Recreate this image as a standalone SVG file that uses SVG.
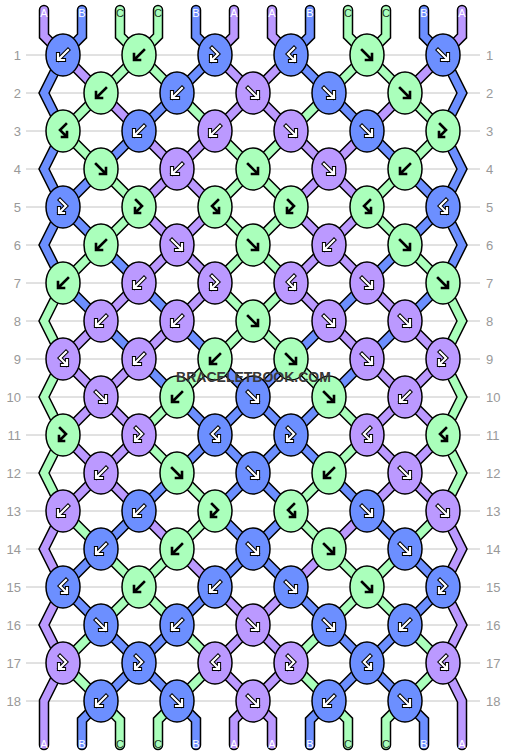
<svg xmlns="http://www.w3.org/2000/svg" xmlns:xlink="http://www.w3.org/1999/xlink" width="506" height="756" viewBox="0 0 506 756">
<style>
.ln{fill:none;stroke:#c4c4c4;stroke-width:1}
.num{font-family:"Liberation Sans",Arial,sans-serif;font-size:13px;fill:#999}
.nl{text-anchor:end}
.so{fill:none;stroke:#000;stroke-width:10.5;stroke-linecap:round;stroke-linejoin:miter}
.si{fill:none;stroke-width:7.5;stroke-linecap:round;stroke-linejoin:miter}
.sa{stroke:#bb99ff}.sb{stroke:#6c8fff}.sc{stroke:#aaffbb}
.a{fill:#bb99ff}.b{fill:#6c8fff}.c{fill:#aaffbb}
.ao{fill:none;stroke:#000;stroke-width:4.2;stroke-linecap:square}
.aw{fill:none;stroke:#fff;stroke-width:2.2;stroke-linecap:square}
.ak{fill:none;stroke:#000;stroke-width:2.6;stroke-linecap:square}
.lab{font-family:"Liberation Sans",Arial,sans-serif;font-size:11px;text-anchor:middle}
.lw{fill:#fff}.ld{fill:#1e3a24}
.wm{font-family:"Liberation Sans",Arial,sans-serif;font-weight:bold;font-size:14px;fill:#383838;text-anchor:middle}
</style>
<defs>
<ellipse id="E" rx="17" ry="21" stroke="#000" stroke-width="1.5"/>
<path id="fw" d="M-5,-5L4.5,4.5M-1,5H5V-1"/>
<path id="bk" d="M5,-5L-4.5,4.5M1,5H-5V-1"/>
<path id="fb" d="M-3,-7L3,-1L-3.5,5.5M1,6H-4V1"/>
<path id="bf" d="M3,-7L-3,-1L3.5,5.5M-1,6H4V1"/>
<g id="fwW"><use href="#fw" class="ao"/><use href="#fw" class="aw"/></g>
<g id="bkW"><use href="#bk" class="ao"/><use href="#bk" class="aw"/></g>
<g id="fbW"><use href="#fb" class="ao"/><use href="#fb" class="aw"/></g>
<g id="bfW"><use href="#bf" class="ao"/><use href="#bf" class="aw"/></g>
<use id="fwK" href="#fw" class="ak"/>
<use id="bkK" href="#bk" class="ak"/>
<use id="fbK" href="#fb" class="ak"/>
<use id="bfK" href="#bf" class="ak"/>
<path id="s0" d="M44,10L44,36L63,55L101,93L139,131L177,169L215,207L177,245L139,283L101,321L63,359L101,397L139,435L101,473L63,511L44,549L63,587L44,625L63,663L44,701L44,745"/>
<path id="s1" d="M82,10L82,36L63,55L44,93L63,131L44,169L63,207L44,245L63,283L101,321L139,359L177,397L215,435L177,473L139,511L101,549L63,587L101,625L139,663L101,701L82,720L82,745"/>
<path id="s2" d="M120,10L120,36L139,55L177,93L215,131L253,169L291,207L253,245L215,283L253,321L291,359L329,397L367,435L329,473L291,511L329,549L367,587L405,625L443,663L405,701L386,720L386,745"/>
<path id="s3" d="M158,10L158,36L139,55L101,93L63,131L101,169L139,207L101,245L63,283L44,321L63,359L44,397L63,435L44,473L63,511L101,549L139,587L177,625L215,663L177,701L158,720L158,745"/>
<path id="s4" d="M196,10L196,36L215,55L177,93L139,131L101,169L63,207L101,245L139,283L177,321L215,359L253,397L291,435L253,473L215,511L253,549L291,587L329,625L367,663L329,701L310,720L310,745"/>
<path id="s5" d="M234,10L234,36L215,55L253,93L291,131L329,169L367,207L329,245L291,283L329,321L367,359L405,397L443,435L405,473L367,511L329,549L291,587L253,625L215,663L253,701L272,720L272,745"/>
<path id="s6" d="M272,10L272,36L291,55L253,93L215,131L177,169L139,207L177,245L215,283L177,321L139,359L101,397L63,435L101,473L139,511L177,549L215,587L253,625L291,663L253,701L234,720L234,745"/>
<path id="s7" d="M310,10L310,36L291,55L329,93L367,131L405,169L443,207L405,245L367,283L329,321L291,359L253,397L215,435L253,473L291,511L253,549L215,587L177,625L139,663L177,701L196,720L196,745"/>
<path id="s8" d="M348,10L348,36L367,55L405,93L443,131L405,169L367,207L405,245L443,283L462,321L443,359L462,397L443,435L462,473L443,511L405,549L367,587L329,625L291,663L329,701L348,720L348,745"/>
<path id="s9" d="M386,10L386,36L367,55L329,93L291,131L253,169L215,207L253,245L291,283L253,321L215,359L177,397L139,435L177,473L215,511L177,549L139,587L101,625L63,663L101,701L120,720L120,745"/>
<path id="s10" d="M424,10L424,36L443,55L462,93L443,131L462,169L443,207L462,245L443,283L405,321L367,359L329,397L291,435L329,473L367,511L405,549L443,587L405,625L367,663L405,701L424,720L424,745"/>
<path id="s11" d="M462,10L462,36L443,55L405,93L367,131L329,169L291,207L329,245L367,283L405,321L443,359L405,397L367,435L405,473L443,511L462,549L443,587L462,625L443,663L462,701L462,745"/>
</defs>
<rect width="506" height="756" fill="#fff"/>
<g id="rows">
<path class="ln" d="M26,55H480M26,93H480M26,131H480M26,169H480M26,207H480M26,245H480M26,283H480M26,321H480M26,359H480M26,397H480M26,435H480M26,473H480M26,511H480M26,549H480M26,587H480M26,625H480M26,663H480M26,701H480"/>
<g class="num nl">
<text x="21" y="59.5">1</text><text x="21" y="97.5">2</text><text x="21" y="135.5">3</text><text x="21" y="173.5">4</text><text x="21" y="211.5">5</text><text x="21" y="249.5">6</text><text x="21" y="287.5">7</text><text x="21" y="325.5">8</text><text x="21" y="363.5">9</text><text x="21" y="401.5">10</text><text x="21" y="439.5">11</text><text x="21" y="477.5">12</text><text x="21" y="515.5">13</text><text x="21" y="553.5">14</text><text x="21" y="591.5">15</text><text x="21" y="629.5">16</text><text x="21" y="667.5">17</text><text x="21" y="705.5">18</text>
</g>
<g class="num">
<text x="486" y="59.5">1</text><text x="486" y="97.5">2</text><text x="486" y="135.5">3</text><text x="486" y="173.5">4</text><text x="486" y="211.5">5</text><text x="486" y="249.5">6</text><text x="486" y="287.5">7</text><text x="486" y="325.5">8</text><text x="486" y="363.5">9</text><text x="486" y="401.5">10</text><text x="486" y="439.5">11</text><text x="486" y="477.5">12</text><text x="486" y="515.5">13</text><text x="486" y="553.5">14</text><text x="486" y="591.5">15</text><text x="486" y="629.5">16</text><text x="486" y="667.5">17</text><text x="486" y="705.5">18</text>
</g>
</g>
<g id="connectors">
<use href="#s0" class="so"/><use href="#s1" class="so"/><use href="#s2" class="so"/><use href="#s3" class="so"/><use href="#s4" class="so"/><use href="#s5" class="so"/><use href="#s6" class="so"/><use href="#s7" class="so"/><use href="#s8" class="so"/><use href="#s9" class="so"/><use href="#s10" class="so"/><use href="#s11" class="so"/>
<use href="#s0" class="si sa"/><use href="#s1" class="si sb"/><use href="#s2" class="si sc"/><use href="#s3" class="si sc"/><use href="#s4" class="si sb"/><use href="#s5" class="si sa"/><use href="#s6" class="si sa"/><use href="#s7" class="si sb"/><use href="#s8" class="si sc"/><use href="#s9" class="si sc"/><use href="#s10" class="si sb"/><use href="#s11" class="si sa"/>
</g>
<g id="labels">
<text class="lab lw" x="44" y="16.5">A</text><text class="lab lw" x="82" y="16.5">B</text><text class="lab ld" x="120" y="16.5">C</text><text class="lab ld" x="158" y="16.5">C</text><text class="lab lw" x="196" y="16.5">B</text><text class="lab lw" x="234" y="16.5">A</text><text class="lab lw" x="272" y="16.5">A</text><text class="lab lw" x="310" y="16.5">B</text><text class="lab ld" x="348" y="16.5">C</text><text class="lab ld" x="386" y="16.5">C</text><text class="lab lw" x="424" y="16.5">B</text><text class="lab lw" x="462" y="16.5">A</text>
<text class="lab lw" x="44" y="748">A</text><text class="lab lw" x="82" y="748">B</text><text class="lab ld" x="120" y="748">C</text><text class="lab ld" x="158" y="748">C</text><text class="lab lw" x="196" y="748">B</text><text class="lab lw" x="234" y="748">A</text><text class="lab lw" x="272" y="748">A</text><text class="lab lw" x="310" y="748">B</text><text class="lab ld" x="348" y="748">C</text><text class="lab ld" x="386" y="748">C</text><text class="lab lw" x="424" y="748">B</text><text class="lab lw" x="462" y="748">A</text>
</g>
<g id="k1-1" class="b" transform="translate(63,55)"><use href="#E"/><use href="#bkW"/></g>
<g id="k1-2" class="c" transform="translate(139,55)"><use href="#E"/><use href="#bkK"/></g>
<g id="k1-3" class="b" transform="translate(215,55)"><use href="#E"/><use href="#fbW"/></g>
<g id="k1-4" class="b" transform="translate(291,55)"><use href="#E"/><use href="#bfW"/></g>
<g id="k1-5" class="c" transform="translate(367,55)"><use href="#E"/><use href="#fwK"/></g>
<g id="k1-6" class="b" transform="translate(443,55)"><use href="#E"/><use href="#fwW"/></g>
<g id="k2-1" class="c" transform="translate(101,93)"><use href="#E"/><use href="#bkK"/></g>
<g id="k2-2" class="b" transform="translate(177,93)"><use href="#E"/><use href="#bkW"/></g>
<g id="k2-3" class="a" transform="translate(253,93)"><use href="#E"/><use href="#fwW"/></g>
<g id="k2-4" class="b" transform="translate(329,93)"><use href="#E"/><use href="#fwW"/></g>
<g id="k2-5" class="c" transform="translate(405,93)"><use href="#E"/><use href="#fwK"/></g>
<g id="k3-1" class="c" transform="translate(63,131)"><use href="#E"/><use href="#bfK"/></g>
<g id="k3-2" class="b" transform="translate(139,131)"><use href="#E"/><use href="#bkW"/></g>
<g id="k3-3" class="a" transform="translate(215,131)"><use href="#E"/><use href="#bkW"/></g>
<g id="k3-4" class="a" transform="translate(291,131)"><use href="#E"/><use href="#fwW"/></g>
<g id="k3-5" class="b" transform="translate(367,131)"><use href="#E"/><use href="#fwW"/></g>
<g id="k3-6" class="c" transform="translate(443,131)"><use href="#E"/><use href="#fbK"/></g>
<g id="k4-1" class="c" transform="translate(101,169)"><use href="#E"/><use href="#fwK"/></g>
<g id="k4-2" class="a" transform="translate(177,169)"><use href="#E"/><use href="#bkW"/></g>
<g id="k4-3" class="c" transform="translate(253,169)"><use href="#E"/><use href="#fwK"/></g>
<g id="k4-4" class="a" transform="translate(329,169)"><use href="#E"/><use href="#fwW"/></g>
<g id="k4-5" class="c" transform="translate(405,169)"><use href="#E"/><use href="#bkK"/></g>
<g id="k5-1" class="b" transform="translate(63,207)"><use href="#E"/><use href="#fbW"/></g>
<g id="k5-2" class="c" transform="translate(139,207)"><use href="#E"/><use href="#fbK"/></g>
<g id="k5-3" class="c" transform="translate(215,207)"><use href="#E"/><use href="#bfK"/></g>
<g id="k5-4" class="c" transform="translate(291,207)"><use href="#E"/><use href="#fbK"/></g>
<g id="k5-5" class="c" transform="translate(367,207)"><use href="#E"/><use href="#bfK"/></g>
<g id="k5-6" class="b" transform="translate(443,207)"><use href="#E"/><use href="#bfW"/></g>
<g id="k6-1" class="c" transform="translate(101,245)"><use href="#E"/><use href="#bkK"/></g>
<g id="k6-2" class="a" transform="translate(177,245)"><use href="#E"/><use href="#fwW"/></g>
<g id="k6-3" class="c" transform="translate(253,245)"><use href="#E"/><use href="#fwK"/></g>
<g id="k6-4" class="a" transform="translate(329,245)"><use href="#E"/><use href="#bkW"/></g>
<g id="k6-5" class="c" transform="translate(405,245)"><use href="#E"/><use href="#fwK"/></g>
<g id="k7-1" class="c" transform="translate(63,283)"><use href="#E"/><use href="#bkK"/></g>
<g id="k7-2" class="a" transform="translate(139,283)"><use href="#E"/><use href="#bkW"/></g>
<g id="k7-3" class="a" transform="translate(215,283)"><use href="#E"/><use href="#fbW"/></g>
<g id="k7-4" class="a" transform="translate(291,283)"><use href="#E"/><use href="#bfW"/></g>
<g id="k7-5" class="a" transform="translate(367,283)"><use href="#E"/><use href="#fwW"/></g>
<g id="k7-6" class="c" transform="translate(443,283)"><use href="#E"/><use href="#fwK"/></g>
<g id="k8-1" class="a" transform="translate(101,321)"><use href="#E"/><use href="#bkW"/></g>
<g id="k8-2" class="a" transform="translate(177,321)"><use href="#E"/><use href="#bkW"/></g>
<g id="k8-3" class="c" transform="translate(253,321)"><use href="#E"/><use href="#fwK"/></g>
<g id="k8-4" class="a" transform="translate(329,321)"><use href="#E"/><use href="#fwW"/></g>
<g id="k8-5" class="a" transform="translate(405,321)"><use href="#E"/><use href="#fwW"/></g>
<g id="k9-1" class="a" transform="translate(63,359)"><use href="#E"/><use href="#bfW"/></g>
<g id="k9-2" class="a" transform="translate(139,359)"><use href="#E"/><use href="#bkW"/></g>
<g id="k9-3" class="c" transform="translate(215,359)"><use href="#E"/><use href="#bkK"/></g>
<g id="k9-4" class="c" transform="translate(291,359)"><use href="#E"/><use href="#fwK"/></g>
<g id="k9-5" class="a" transform="translate(367,359)"><use href="#E"/><use href="#fwW"/></g>
<g id="k9-6" class="a" transform="translate(443,359)"><use href="#E"/><use href="#fbW"/></g>
<g id="k10-1" class="a" transform="translate(101,397)"><use href="#E"/><use href="#fwW"/></g>
<g id="k10-2" class="c" transform="translate(177,397)"><use href="#E"/><use href="#bkK"/></g>
<g id="k10-3" class="b" transform="translate(253,397)"><use href="#E"/><use href="#fwW"/></g>
<g id="k10-4" class="c" transform="translate(329,397)"><use href="#E"/><use href="#fwK"/></g>
<g id="k10-5" class="a" transform="translate(405,397)"><use href="#E"/><use href="#bkW"/></g>
<g id="k11-1" class="c" transform="translate(63,435)"><use href="#E"/><use href="#fbK"/></g>
<g id="k11-2" class="a" transform="translate(139,435)"><use href="#E"/><use href="#fbW"/></g>
<g id="k11-3" class="b" transform="translate(215,435)"><use href="#E"/><use href="#bfW"/></g>
<g id="k11-4" class="b" transform="translate(291,435)"><use href="#E"/><use href="#fbW"/></g>
<g id="k11-5" class="a" transform="translate(367,435)"><use href="#E"/><use href="#bfW"/></g>
<g id="k11-6" class="c" transform="translate(443,435)"><use href="#E"/><use href="#bfK"/></g>
<g id="k12-1" class="a" transform="translate(101,473)"><use href="#E"/><use href="#bkW"/></g>
<g id="k12-2" class="c" transform="translate(177,473)"><use href="#E"/><use href="#fwK"/></g>
<g id="k12-3" class="b" transform="translate(253,473)"><use href="#E"/><use href="#fwW"/></g>
<g id="k12-4" class="c" transform="translate(329,473)"><use href="#E"/><use href="#bkK"/></g>
<g id="k12-5" class="a" transform="translate(405,473)"><use href="#E"/><use href="#fwW"/></g>
<g id="k13-1" class="a" transform="translate(63,511)"><use href="#E"/><use href="#bkW"/></g>
<g id="k13-2" class="b" transform="translate(139,511)"><use href="#E"/><use href="#bkW"/></g>
<g id="k13-3" class="c" transform="translate(215,511)"><use href="#E"/><use href="#fbK"/></g>
<g id="k13-4" class="c" transform="translate(291,511)"><use href="#E"/><use href="#bfK"/></g>
<g id="k13-5" class="b" transform="translate(367,511)"><use href="#E"/><use href="#fwW"/></g>
<g id="k13-6" class="a" transform="translate(443,511)"><use href="#E"/><use href="#fwW"/></g>
<g id="k14-1" class="b" transform="translate(101,549)"><use href="#E"/><use href="#bkW"/></g>
<g id="k14-2" class="c" transform="translate(177,549)"><use href="#E"/><use href="#bkK"/></g>
<g id="k14-3" class="b" transform="translate(253,549)"><use href="#E"/><use href="#fwW"/></g>
<g id="k14-4" class="c" transform="translate(329,549)"><use href="#E"/><use href="#fwK"/></g>
<g id="k14-5" class="b" transform="translate(405,549)"><use href="#E"/><use href="#fwW"/></g>
<g id="k15-1" class="b" transform="translate(63,587)"><use href="#E"/><use href="#bfW"/></g>
<g id="k15-2" class="c" transform="translate(139,587)"><use href="#E"/><use href="#bkK"/></g>
<g id="k15-3" class="b" transform="translate(215,587)"><use href="#E"/><use href="#bkW"/></g>
<g id="k15-4" class="b" transform="translate(291,587)"><use href="#E"/><use href="#fwW"/></g>
<g id="k15-5" class="c" transform="translate(367,587)"><use href="#E"/><use href="#fwK"/></g>
<g id="k15-6" class="b" transform="translate(443,587)"><use href="#E"/><use href="#fbW"/></g>
<g id="k16-1" class="b" transform="translate(101,625)"><use href="#E"/><use href="#fwW"/></g>
<g id="k16-2" class="b" transform="translate(177,625)"><use href="#E"/><use href="#bkW"/></g>
<g id="k16-3" class="a" transform="translate(253,625)"><use href="#E"/><use href="#fwW"/></g>
<g id="k16-4" class="b" transform="translate(329,625)"><use href="#E"/><use href="#fwW"/></g>
<g id="k16-5" class="b" transform="translate(405,625)"><use href="#E"/><use href="#bkW"/></g>
<g id="k17-1" class="a" transform="translate(63,663)"><use href="#E"/><use href="#fbW"/></g>
<g id="k17-2" class="b" transform="translate(139,663)"><use href="#E"/><use href="#fbW"/></g>
<g id="k17-3" class="a" transform="translate(215,663)"><use href="#E"/><use href="#bfW"/></g>
<g id="k17-4" class="a" transform="translate(291,663)"><use href="#E"/><use href="#fbW"/></g>
<g id="k17-5" class="b" transform="translate(367,663)"><use href="#E"/><use href="#bfW"/></g>
<g id="k17-6" class="a" transform="translate(443,663)"><use href="#E"/><use href="#bfW"/></g>
<g id="k18-1" class="b" transform="translate(101,701)"><use href="#E"/><use href="#bkW"/></g>
<g id="k18-2" class="b" transform="translate(177,701)"><use href="#E"/><use href="#fwW"/></g>
<g id="k18-3" class="a" transform="translate(253,701)"><use href="#E"/><use href="#fwW"/></g>
<g id="k18-4" class="b" transform="translate(329,701)"><use href="#E"/><use href="#bkW"/></g>
<g id="k18-5" class="b" transform="translate(405,701)"><use href="#E"/><use href="#fwW"/></g>
<text class="wm" x="253.5" y="382">BRACELETBOOK.COM</text>
</svg>
